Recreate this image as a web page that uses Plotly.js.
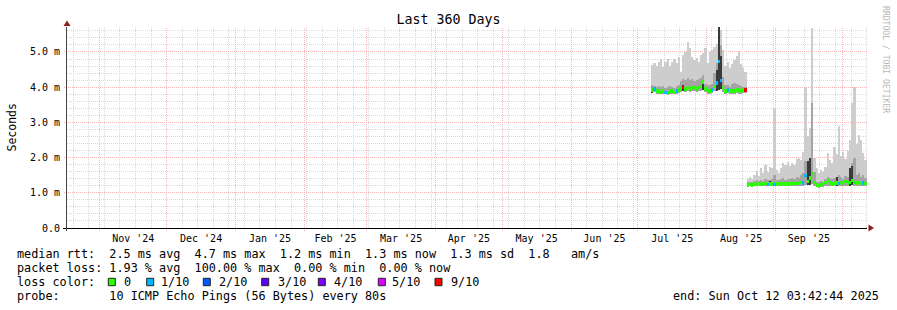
<!DOCTYPE html>
<html><head><meta charset="utf-8">
<script src="https://cdn.plot.ly/plotly-3.0.1.min.js"></script>
<style>html,body{margin:0;padding:0;background:#fff;}#chart{width:897px;height:310px;}</style>
</head><body><div id="chart"></div>
<script>
// ---------------- data ----------------
const dates = [
 '2025-07-07','2025-07-08','2025-07-09','2025-07-10','2025-07-11','2025-07-12','2025-07-13','2025-07-14','2025-07-15','2025-07-16',
 '2025-07-17','2025-07-18','2025-07-19','2025-07-20','2025-07-21','2025-07-22','2025-07-23','2025-07-24','2025-07-25','2025-07-26',
 '2025-07-27','2025-07-28','2025-07-29','2025-07-30','2025-07-31','2025-08-01','2025-08-02','2025-08-03','2025-08-04','2025-08-05',
 '2025-08-06','2025-08-07','2025-08-08','2025-08-09','2025-08-10','2025-08-11','2025-08-12','2025-08-13','2025-08-14','2025-08-15',
 '2025-08-16','2025-08-17','2025-08-18',
 '2025-08-19','2025-08-20','2025-08-21','2025-08-22','2025-08-23','2025-08-24','2025-08-25','2025-08-26','2025-08-27','2025-08-28',
 '2025-08-29','2025-08-30','2025-08-31','2025-09-01','2025-09-02','2025-09-03','2025-09-04','2025-09-05','2025-09-06','2025-09-07',
 '2025-09-08','2025-09-09','2025-09-10','2025-09-11','2025-09-12','2025-09-13','2025-09-14','2025-09-15','2025-09-16','2025-09-17',
 '2025-09-18','2025-09-19','2025-09-20','2025-09-21','2025-09-22','2025-09-23','2025-09-24','2025-09-25','2025-09-26','2025-09-27',
 '2025-09-28','2025-09-29','2025-09-30','2025-10-01','2025-10-02','2025-10-03','2025-10-04','2025-10-05','2025-10-06','2025-10-07',
 '2025-10-08','2025-10-09','2025-10-10','2025-10-11','2025-10-12'
];
// lowest ping (ms)
const smokeLow = [
 3.84,3.86,3.82,3.81,3.80,3.82,3.80,3.79,3.82,3.81,3.80,3.82,3.84,3.86,3.89,3.87,3.89,3.87,3.88,3.89,3.87,3.89,3.90,3.92,3.86,3.82,3.81,3.84,3.88,3.90,3.92,3.95,3.86,3.81,3.83,3.81,3.82,3.80,3.83,3.82,3.81,3.83,3.83,
 1.17,1.18,1.17,1.18,1.18,1.19,1.18,1.18,1.19,1.18,1.18,1.19,1.18,1.18,1.19,1.18,1.19,1.18,1.19,1.18,1.19,1.19,1.20,1.19,1.20,1.20,1.22,1.21,1.22,1.24,1.20,1.16,1.15,1.16,1.17,1.19,1.20,1.19,1.18,1.19,1.19,1.18,1.20,1.19,1.20,1.19,1.20,1.21,1.20,1.19,1.20,1.19,1.19,1.19,1.19
];
// highest ping (ms) – light smoke
const smokeHigh = [
 4.63,4.69,4.60,4.72,4.80,4.57,4.72,4.80,4.60,4.72,4.80,4.69,4.86,4.43,4.91,5.00,5.28,5.11,4.86,4.77,4.83,4.72,4.91,4.97,5.11,4.69,5.00,5.06,5.14,5.23,5.71,5.63,5.06,4.60,4.72,4.55,4.66,4.77,4.89,5.03,4.66,4.55,4.43,
 1.40,1.45,1.38,1.50,1.62,1.48,1.70,1.55,1.78,1.60,1.72,1.70,3.40,1.65,1.55,1.70,1.85,1.80,1.88,1.75,1.85,1.80,1.95,2.00,1.93,2.15,4.00,2.60,2.85,5.68,2.00,1.70,1.56,1.65,1.60,1.73,2.13,1.93,1.85,2.30,2.10,2.90,2.05,2.15,1.95,2.20,2.50,3.55,4.00,2.40,2.64,2.50,2.13,1.93,2.05
];
// inner smoke band top (ms)
const smokeMid = [
 4.05,4.02,4.00,4.03,4.00,4.02,3.98,4.00,4.02,4.00,3.98,4.02,4.05,4.18,4.22,4.20,4.25,4.20,4.22,4.18,4.20,4.22,4.25,4.35,4.10,4.05,4.05,4.10,4.40,4.70,5.71,5.20,4.30,4.05,4.05,4.00,4.08,4.12,4.10,4.05,4.02,4.00,4.00,
 1.30,1.32,1.30,1.33,1.35,1.33,1.36,1.34,1.38,1.35,1.36,1.38,1.50,1.37,1.36,1.38,1.42,1.36,1.40,1.38,1.42,1.40,1.45,1.42,1.50,1.55,1.90,1.70,2.00,3.55,1.60,1.32,1.30,1.33,1.32,1.40,1.45,1.42,1.38,1.42,1.40,1.50,1.45,1.40,1.48,1.45,1.60,1.85,2.00,1.50,1.55,1.45,1.50,1.42,1.45
];
// darkest smoke core (ms), only on a few days
const smokeDark = [
 3.98,null,null,null,null,null,null,null,null,null,null,null,null,null,4.05,null,null,null,null,null,null,null,null,4.20,null,null,null,null,null,4.50,5.71,4.90,null,null,null,null,null,null,null,null,null,null,null,
 null,null,null,null,null,null,null,null,null,null,1.33,null,null,null,null,null,null,null,null,null,null,null,null,null,null,null,null,1.90,2.00,null,null,null,null,null,null,null,null,null,null,null,1.45,null,null,null,null,null,1.70,1.75,null,null,null,null,null,null
];
// median rtt (ms)
const median = [
 3.92,3.95,3.89,3.89,3.86,3.89,3.86,3.86,3.89,3.89,3.86,3.89,3.92,3.95,3.98,3.95,3.98,3.95,3.98,3.98,3.95,3.98,4.01,4.15,3.95,3.89,3.89,3.92,4.03,4.12,4.72,4.20,3.98,3.89,3.92,3.89,3.89,3.89,3.92,3.92,3.89,3.92,3.92,
 1.22,1.24,1.22,1.25,1.24,1.26,1.24,1.25,1.27,1.24,1.25,1.26,1.24,1.25,1.26,1.25,1.27,1.25,1.26,1.25,1.27,1.26,1.28,1.27,1.30,1.28,1.50,1.33,1.42,1.55,1.30,1.22,1.20,1.22,1.23,1.30,1.35,1.28,1.25,1.27,1.28,1.26,1.30,1.27,1.32,1.28,1.30,1.35,1.30,1.28,1.30,1.27,1.28,1.27,1.27
];
// packet loss (pings lost out of 10)
const lossLevel = [
 0,1,0,0,0,0,1,0,0,0,0,1,0,0,9,0,0,0,0,0,0,0,0,0,0,0,0,1,0,1,1,1,0,0,1,0,0,0,0,0,0,0,9,
 0,0,0,0,0,0,0,0,0,1,0,0,1,0,0,0,0,0,0,0,0,0,0,0,0,1,1,0,0,0,0,0,0,0,0,0,0,0,0,0,0,1,0,0,0,0,0,0,0,0,0,0,1,0,0
];
const yTickVals = [0, 1, 2, 3, 4, 5];
const yTickText = ['0.0', '1.0 m', '2.0 m', '3.0 m', '4.0 m', '5.0 m'];
const lossKeys   = [0, 1, 2, 3, 4, 5, 9];
const lossLabels = ['0', '1/10', '2/10', '3/10', '4/10', '5/10', '9/10'];
const lossColors = ['#26ff00', '#00b8ff', '#0059ff', '#5e00ff', '#7e00ff', '#dd00ff', '#ff0000'];
const chartTitle = 'Last 360 Days';
const yTitle = 'Seconds';
const rowRtt   = 'median rtt:  2.5 ms avg  4.7 ms max  1.2 ms min  1.3 ms now  1.3 ms sd  1.8   am/s';
const rowLoss  = 'packet loss: 1.93 % avg  100.00 % max  0.00 % min  0.00 % now';
const rowColor = 'loss color:';
const rowProbe = 'probe:       10 ICMP Echo Pings (56 Bytes) every 80s';
const rowEnd   = 'end: Sun Oct 12 03:42:44 2025';
const watermark = 'RRDTOOL / TOBI OETIKER';
const rangeStart = '2024-10-17 03:42:44';
const rangeEnd   = '2025-10-12 03:42:44';
const yMax = 5.71;

// ---------------- styling / layout ----------------
const FONT = 'DejaVu Sans Mono, monospace';
const DAY = 86400000;
const PL = 67, PR = 867, PT = 27, PB = 228;
const X = px => (px - PL) / (PR - PL);
const Y = py => (PB - py) / (PB - PT);
const pre = s => s.replace(/ /g, '\u00a0');
function solid(hex) {
  const r = parseInt(hex.slice(1, 3), 16), g = parseInt(hex.slice(3, 5), 16), b = parseInt(hex.slice(5, 7), 16);
  return 'rgba(' + r + ',' + g + ',' + b + ',0.999)';
}
function band(tops, color) {
  return {
    type: 'bar', x: dates, base: smokeLow,
    y: tops.map((t, k) => t == null ? null : t - smokeLow[k]),
    width: DAY, offset: 0,
    marker: { color: solid(color), line: { width: 0 } },
    hoverinfo: 'skip', showlegend: false
  };
}
const colorOf = l => lossColors[lossKeys.indexOf(l)];
const MEDIAN_HALF = 0.045;
const traces = [
  band(smokeHigh, '#cdcdcd'),
  band(smokeMid, '#a4a4a4'),
  band(smokeDark, '#3a3a3a'),
  {
    type: 'bar', x: dates,
    base: median.map(m => m - MEDIAN_HALF),
    y: median.map(() => 2 * MEDIAN_HALF),
    width: DAY, offset: 0,
    marker: { color: lossLevel.map(l => solid(colorOf(l))), line: { width: 0 } },
    hoverinfo: 'skip', showlegend: false
  }
];

// ---- grid (rrdtool style, pixel-snapped dotted lines) ----
const MINOR = '#d9d9d9';
const MAJOR = '#f6b4b4';
const DASH = '1px,1px';
const shapes = [];
const tms = s => { const p = s.split(/[- :]/).map(Number); return Date.UTC(p[0], p[1] - 1, p[2], p[3] || 0, p[4] || 0, p[5] || 0); };
const T0 = tms(rangeStart), T1 = tms(rangeEnd);
const tPx = t => PL + (t - T0) / (T1 - T0) * (PR - PL);
const vPx = v => PB - v / yMax * (PB - PT);
const snap = p => Math.floor(p) + 0.5;
const monthPx = [];
for (let y = 2024, m = 10; ; ) {
  const t = Date.UTC(y, m, 1);
  if (t > T1) break;
  if (t > T0) monthPx.push(snap(tPx(t)));
  m++; if (m > 11) { m = 0; y++; }
}
for (let t = Date.UTC(2024, 9, 20); t < T1; t += 7 * DAY) {
  const p = snap(tPx(t));
  if (monthPx.indexOf(p) >= 0) continue;
  shapes.push({ type: 'line', layer: 'below', xref: 'paper', yref: 'paper', x0: X(p), x1: X(p), y0: Y(PB), y1: Y(PT), line: { color: MINOR, width: 1, dash: DASH } });
}
for (let k = 1; k * 0.2 < yMax; k++) {
  if (k % 5 === 0) continue;
  const p = snap(vPx(k * 0.2));
  shapes.push({ type: 'line', layer: 'below', xref: 'paper', yref: 'paper', x0: X(PL), x1: X(PR), y0: Y(p), y1: Y(p), line: { color: MINOR, width: 1, dash: DASH } });
}
monthPx.forEach(p => {
  shapes.push({ type: 'line', layer: 'below', xref: 'paper', yref: 'paper', x0: X(p), x1: X(p), y0: Y(PB + 3), y1: Y(PT), line: { color: MAJOR, width: 1, dash: DASH } });
});
yTickVals.forEach(v => {
  if (v === 0) return;
  const p = snap(vPx(v));
  shapes.push({ type: 'line', layer: 'below', xref: 'paper', yref: 'paper', x0: X(PL - 3), x1: X(PR), y0: Y(p), y1: Y(p), line: { color: MAJOR, width: 1, dash: DASH } });
});
// axis stubs past the origin, as rrdtool draws them
shapes.push({ type: 'line', xref: 'paper', yref: 'paper', x0: X(63), x1: X(67), y0: Y(PB + 0.5), y1: Y(PB + 0.5), line: { color: '#000', width: 1 } });
shapes.push({ type: 'line', xref: 'paper', yref: 'paper', x0: X(66.5), x1: X(66.5), y0: Y(PB), y1: Y(PB + 3), line: { color: '#444', width: 1 } });

const TXT = { family: FONT, size: 11.8, color: '#000' };
const rowsY = [254.3, 268.3, 282.3, 296.3];
const annotations = [
  { text: pre(rowRtt), x: X(15), y: Y(rowsY[0]) },
  { text: pre(rowLoss), x: X(15), y: Y(rowsY[1]) },
  { text: pre(rowColor), x: X(15), y: Y(rowsY[2]) },
  { text: pre(rowProbe), x: X(15), y: Y(rowsY[3]) },
  { text: pre(rowEnd), x: X(881), y: Y(rowsY[3]), xanchor: 'right' }
].map(a => Object.assign({ xref: 'paper', yref: 'paper', showarrow: false, xanchor: 'left', yanchor: 'middle', font: TXT }, a));

const boxX  = [108.3, 146.7, 203.3, 261.7, 318.3, 378.3, 435];
const textX = [123, 160, 218.3, 276.7, 333.3, 391, 450];
lossLabels.forEach((lab, k) => {
  annotations.push({ text: pre(lab), x: X(textX[k] - 1), y: Y(rowsY[2]), xref: 'paper', yref: 'paper', showarrow: false, xanchor: 'left', yanchor: 'middle', font: TXT });
  shapes.push({ type: 'rect', xref: 'paper', yref: 'paper', x0: X(boxX[k]), x1: X(boxX[k] + 7), y0: Y(285.7), y1: Y(278.3), fillcolor: lossColors[k], line: { color: '#222', width: 1 } });
});
annotations.push({ text: yTitle, x: X(11), y: Y(127.5), xref: 'paper', yref: 'paper', showarrow: false, textangle: -90, xanchor: 'center', yanchor: 'middle', font: { family: FONT, size: 11.5, color: '#000' } });
annotations.push({ text: pre(watermark), x: X(886), y: Y(59), xref: 'paper', yref: 'paper', showarrow: false, textangle: 90, xanchor: 'center', yanchor: 'middle', font: { family: FONT, size: 8.1, color: '#b8b8b8' } });

const ARROW = '#8c2020';
shapes.push({ type: 'path', xref: 'paper', yref: 'paper', fillcolor: ARROW, line: { width: 0 },
  path: 'M' + X(67) + ',' + Y(20.5) + 'L' + X(63.5) + ',' + Y(26) + 'L' + X(70.5) + ',' + Y(26) + 'Z' });
shapes.push({ type: 'path', xref: 'paper', yref: 'paper', fillcolor: ARROW, line: { width: 0 },
  path: 'M' + X(874) + ',' + Y(228) + 'L' + X(868.5) + ',' + Y(224.5) + 'L' + X(868.5) + ',' + Y(231.5) + 'Z' });

const layout = {
  width: 897, height: 310,
  margin: { l: PL, r: 897 - PR, t: PT, b: 310 - PB, pad: 0 },
  paper_bgcolor: '#ffffff', plot_bgcolor: '#ffffff',
  font: { family: FONT, size: 10, color: '#000' },
  barmode: 'overlay', bargap: 0, bargroupgap: 0, showlegend: false, hovermode: false,
  title: { text: chartTitle, font: { family: FONT, size: 13.3, color: '#000' }, x: 0.5, xref: 'container', xanchor: 'center', y: 1 - 19 / 310, yref: 'container', yanchor: 'middle' },
  xaxis: {
    type: 'date', range: [rangeStart, rangeEnd], fixedrange: true,
    tick0: '2024-11-01', dtick: 'M1', tickformat: "%b '%y", ticklabelmode: 'period',
    showgrid: false, showline: true, linecolor: '#000', linewidth: 1,
    ticks: 'outside', ticklen: 3, tickcolor: 'rgba(0,0,0,0)', ticklabelstandoff: -2,
    zeroline: false, tickfont: { family: FONT, size: 10, color: '#000' }
  },
  yaxis: {
    range: [0, yMax], fixedrange: true,
    tickmode: 'array', tickvals: yTickVals, ticktext: yTickText,
    showgrid: false, showline: true, linecolor: '#444', linewidth: 1,
    ticks: 'outside', ticklen: 3, tickcolor: 'rgba(0,0,0,0)', ticklabelstandoff: 1,
    zeroline: false, tickfont: { family: FONT, size: 10, color: '#000' }
  },
  annotations: annotations,
  shapes: shapes
};
Plotly.newPlot('chart', traces, layout, { staticPlot: true, displayModeBar: false });
</script>
</body></html>
